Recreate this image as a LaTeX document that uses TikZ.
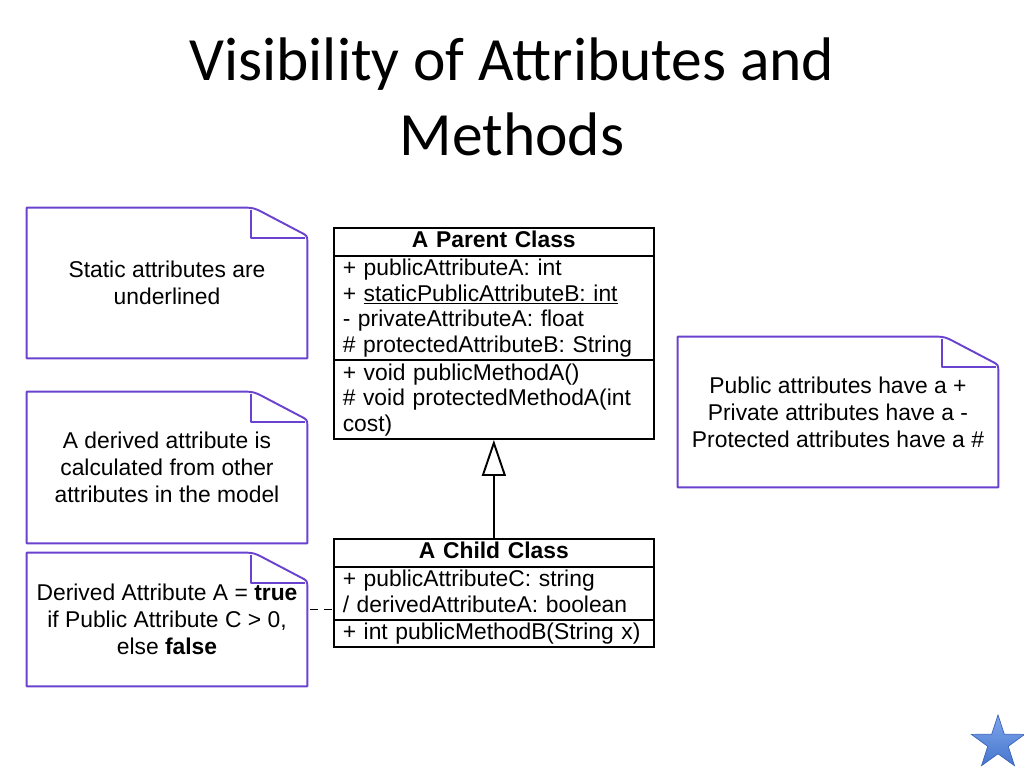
\documentclass[tikz,border=0pt]{standalone}
\usepackage{fontspec}
\setmainfont{Liberation Sans}
\newfontfamily\titlefont{Carlito}
\usetikzlibrary{shapes.multipart,shapes.geometric,arrows.meta,calc,positioning}

\definecolor{notepurple}{RGB}{106,66,208}
\definecolor{startop}{RGB}{125,165,235}
\definecolor{starbottom}{RGB}{70,118,205}
\definecolor{starline}{RGB}{60,100,185}

\newcommand\umlfont{\fontsize{13}{14.6}\selectfont}
\newcommand\rs{\rule[-3.8pt]{0pt}{14.6pt}}
\newcommand\classhead[1]{\hbox to \hsize{\hss\rs\textbf{#1}\hss}}

\tikzset{
  umlclass/.style={rectangle split, rectangle split parts=3, draw, line width=1.1pt,
    text width=172pt, inner xsep=5pt, inner ysep=0pt, align=left, font=\umlfont,
    anchor=north west},
  umlnote/.style={align=center, font=\fontsize{13}{15.3}\selectfont, inner sep=0pt},
  notepen/.style={draw=notepurple, line width=1.1pt, line join=round},
  inherit/.style={line width=1.1pt, -{Triangle[open,width=0.48cm,length=0.72cm]}},
  notelink/.style={line width=1.1pt, dash pattern=on 0.16cm off 0.12cm, dash phase=0.22cm},
}

\begin{document}
\begin{tikzpicture}[x=0.02cm,y=-0.02cm]
\useasboundingbox (0,0) rectangle (1024,768);

\node[font=\titlefont\fontsize{35}{42.5}\selectfont, align=center] (title) at (512,97)
  {Visibility of Attributes and\\Methods};

% classes
\node[umlclass] (parent) at (333,227) {\classhead{A Parent Class}
  \nodepart{two}\rs+ publicAttributeA: int\\
  \rs+ \underline{staticPublicAttributeB: int}\\
  \rs- privateAttributeA: float\\
  \rs\# protectedAttributeB: String
  \nodepart{three}\rs+ void publicMethodA()\\
  \rs\# void protectedMethodA(int\\
  \rs cost)};

\node[umlclass] (child) at (333,538) {\classhead{A Child Class}
  \nodepart{two}\rs+ publicAttributeC: string\\
  \rs/ derivedAttributeA: boolean
  \nodepart{three}\rs+ int publicMethodB(String x)};

% notes
\node[umlnote, minimum width=5.6cm, minimum height=3cm] (static) at (167,283)
  {Static attributes are\\underlined};
\node[umlnote, minimum width=5.6cm, minimum height=3.02cm] (derived) at (167,467.5)
  {A derived attribute is\\calculated from other\\attributes in the model};
\node[umlnote, minimum width=5.6cm, minimum height=2.66cm] (rule) at (167,619.5)
  {Derived Attribute A = \textbf{true}\\if Public Attribute C > 0,\\else \textbf{false}};
\node[umlnote, minimum width=6.4cm, minimum height=3cm] (visib) at (838,412)
  {Public attributes have a +\\Private attributes have a -\\Protected attributes have a \#};

\foreach \n in {static,derived,rule,visib}{
  \draw[notepen] (\n.south west) -- (\n.north west) -- ($(\n.north east)+(-62,0)$)
    .. controls ($(\n.north east)+(-54,0)$) and ($(\n.north east)+(-52,1)$) .. ($(\n.north east)+(-46,4)$)
    -- ($(\n.north east)+(-6,25)$) .. controls ($(\n.north east)+(0,28)$) .. ($(\n.north east)+(0,36)$)
    -- (\n.south east) -- cycle;
  \draw[notepen] ($(\n.north east)+(-56,2)$) -- ($(\n.north east)+(-56,30)$) -- ($(\n.north east)+(-2,30)$);
}

% connectors
\draw[inherit] (child.north) -- (parent.south);
\draw[notelink] ([yshift=0.2cm]rule.east) -- ([yshift=0.2cm]rule.east -| child.west);

\node[star, star points=5, star point ratio=2.6, minimum size=1.12cm, inner sep=0pt,
  draw=starline, top color=startop, bottom color=starbottom] (star) at (998,743) {};
\end{tikzpicture}
\end{document}
